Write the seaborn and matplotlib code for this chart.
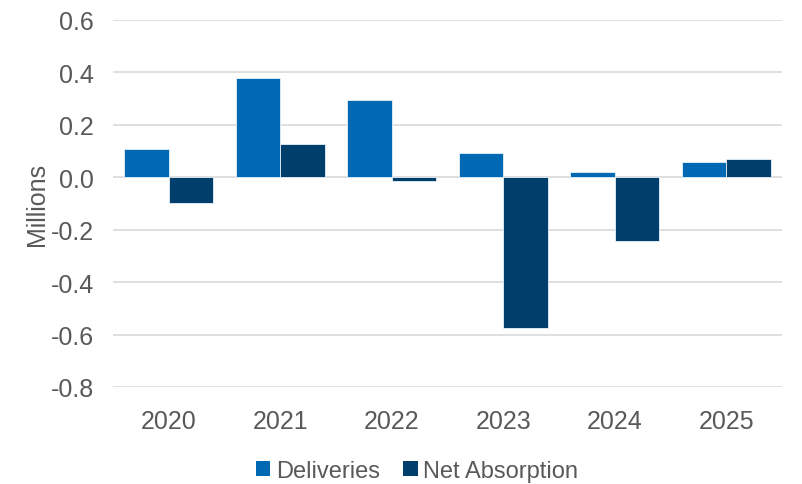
import matplotlib
matplotlib.use("Agg")
import matplotlib.pyplot as plt
import seaborn as sns
import pandas as pd
from matplotlib.patches import Patch

years = ["2020", "2021", "2022", "2023", "2024", "2025"]
deliveries = [0.109, 0.378, 0.295, 0.092, 0.021, 0.057]
net_absorption = [-0.098, 0.126, -0.016, -0.575, -0.245, 0.068]
series_names = ["Deliveries", "Net Absorption"]
y_ticks = [0.6, 0.4, 0.2, 0.0, -0.2, -0.4, -0.6, -0.8]

df = pd.DataFrame({
    "Year": years * 2,
    "Value": deliveries + net_absorption,
    "Series": [series_names[0]] * len(years) + [series_names[1]] * len(years),
})

colors = {"Deliveries": "#0069B4", "Net Absorption": "#003E6B"}
text_color = "#595959"

sns.set_theme(style="white")
plt.rcParams["font.family"] = ["Liberation Sans", "DejaVu Sans"]

fig = plt.figure(figsize=(8.02, 4.85), dpi=100)
ax = fig.add_axes([0.141, 0.2, 0.834, 0.757])

sns.barplot(data=df, x="Year", y="Value", hue="Series", palette=colors,
            saturation=1, width=0.8, gap=0, edgecolor="#E8F0F8", linewidth=0.6,
            legend=False, ax=ax, zorder=3)

ax.set_ylim(-0.8, 0.6)
ax.set_yticks(y_ticks)
ax.set_yticklabels([f"{t:.1f}" for t in y_ticks])
ax.grid(axis="y", color="#D9D9D9", linewidth=1.2, zorder=0)
ax.set_axisbelow(True)
for s in ax.spines.values():
    s.set_visible(False)
ax.tick_params(axis="both", colors=text_color, labelsize=18, length=0)
ax.tick_params(axis="y", pad=14)
ax.tick_params(axis="x", pad=16)
ax.set_xlabel("")
ax.set_ylabel("Millions", color=text_color, fontsize=18, labelpad=1)
ax.set_xlim(-0.5, len(years) - 0.5)

handles = [Patch(facecolor=colors[n], edgecolor="none", label=n) for n in series_names]
fig.legend(handles=handles, loc="center", bbox_to_anchor=(0.52, 0.027), ncol=2,
           frameon=False, fontsize=17, handlelength=0.6, handleheight=0.6,
           handletextpad=0.25, columnspacing=1.0, labelcolor=text_color)

fig.savefig("out.png", dpi=100)
